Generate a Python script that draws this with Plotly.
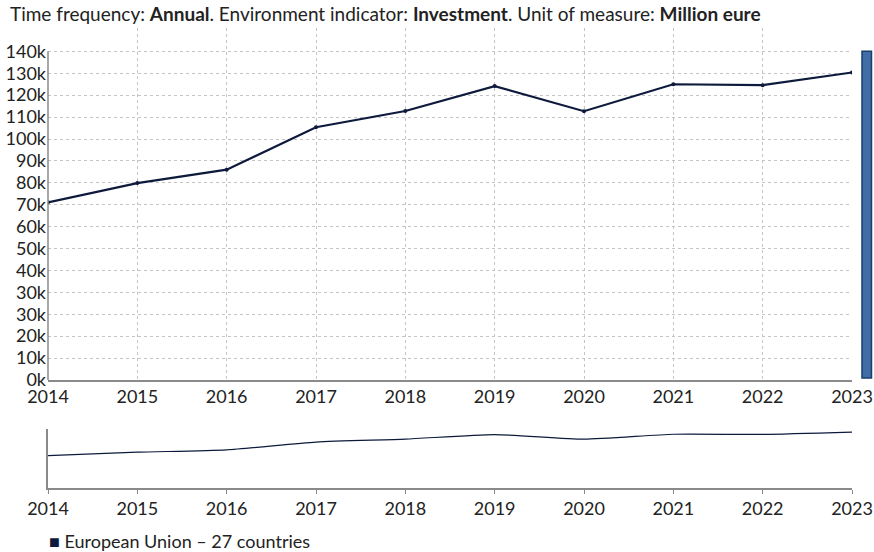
import numpy as np
import plotly.graph_objects as go

# ---- data ----
years = [2014, 2015, 2016, 2017, 2018, 2019, 2020, 2021, 2022, 2023]
investment = [75700, 83900, 89600, 107700, 114600, 125200, 114500, 126000, 125600, 131000]
series_name = "European Union – 27 countries"
y_tick_labels = ["0k", "10k", "20k", "30k", "30k", "40k", "50k", "60k", "70k",
                 "80k", "90k", "100k", "110k", "120k", "130k", "140k"]
x_tick_labels = [str(y) for y in years]
title_text = ("Time frequency: <b>Annual</b>. Environment indicator: <b>Investment</b>. "
              "Unit of measure: <b>Million eure</b>")

# ---- styling ----
FONT = "Lato, 'Open Sans', sans-serif"
LINE_COLOR = "#0d1a3c"
TEXT_COLOR = "#222222"
AXIS_COLOR = "#8a8a8a"
GRID_COLOR = "#c4c4c4"

W, H = 874, 552
ML, MR, MT, MB = 48, 22, 28, 64
plot_h = H - MT - MB  # 460
plot_w = W - ML - MR  # 804


def py(pix):  # pixel y -> paper y
    return (H - MB - pix) / plot_h


def px(pix):  # pixel x -> paper x
    return (pix - ML) / plot_w


top_val = 140000
tickvals = list(np.linspace(0, top_val, len(y_tick_labels)))

fig = go.Figure()

# main line
fig.add_trace(go.Scatter(
    x=years, y=investment, mode="lines+markers", name=series_name,
    line=dict(color=LINE_COLOR, width=2.2),
    marker=dict(color=LINE_COLOR, size=4),
    xaxis="x", yaxis="y", showlegend=False, hoverinfo="x+y"))

# navigator line (mini chart)
fig.add_trace(go.Scatter(
    x=years, y=investment, mode="lines", name=series_name,
    line=dict(color=LINE_COLOR, width=1.2, shape="spline", smoothing=0.6),
    xaxis="x2", yaxis="y2", showlegend=False, hoverinfo="skip"))

main_bottom_px = 380
main_top_val = top_val * (main_bottom_px - 29) / (main_bottom_px - 52.3)

fig.update_layout(
    width=W, height=H,
    margin=dict(l=ML, r=MR, t=MT, b=MB, autoexpand=False),
    paper_bgcolor="white", plot_bgcolor="white",
    font=dict(family=FONT, size=18, color=TEXT_COLOR),
    showlegend=False,
    xaxis=dict(
        domain=[0, 1], range=[years[0], years[-1]],
        tickvals=years, ticktext=x_tick_labels,
        showgrid=True, gridcolor=GRID_COLOR, griddash="dot", gridwidth=1,
        showline=True, linecolor=AXIS_COLOR, linewidth=1.5,
        ticks="", zeroline=False, tickfont=dict(size=18, color=TEXT_COLOR),
        anchor="y", fixedrange=True, automargin=False,
    ),
    yaxis=dict(
        domain=[py(main_bottom_px), 1], range=[0, main_top_val],
        tickvals=tickvals, ticktext=y_tick_labels,
        showgrid=True, gridcolor=GRID_COLOR, griddash="dot", gridwidth=1,
        showline=False, ticks="", zeroline=False,
        tickfont=dict(size=18, color=TEXT_COLOR), ticklabelstandoff=1,
        anchor="x", fixedrange=True, automargin=False,
    ),
    xaxis2=dict(
        domain=[0, 1], range=[years[0], years[-1]],
        tickvals=years, ticktext=x_tick_labels,
        showgrid=False, showline=True, linecolor=AXIS_COLOR, linewidth=1.5,
        ticks="outside", ticklen=4, tickcolor=AXIS_COLOR,
        zeroline=False, tickfont=dict(size=18, color=TEXT_COLOR),
        anchor="y2", fixedrange=True, automargin=False,
    ),
    yaxis2=dict(
        domain=[0, py(429.3)], range=[0, 137600],
        showgrid=False, showline=True, linecolor=AXIS_COLOR, linewidth=1.5,
        showticklabels=False, ticks="", zeroline=False,
        anchor="x2", fixedrange=True, automargin=False,
    ),
)

# y axis line (only up to the top gridline)
fig.add_shape(type="line", xref="paper", yref="y", x0=0, x1=0,
              y0=0, y1=top_val, line=dict(color=AXIS_COLOR, width=1.5))

# vertical scroll bar at right
fig.add_shape(type="rect", xref="paper", yref="y",
              x0=px(862), x1=px(871.5), y0=top_val * (380 - 378) / (380 - 52.3), y1=top_val,
              fillcolor="#3f6ea6", line=dict(color="#1c3d6b", width=1.5))

# title
fig.add_annotation(text=title_text, xref="paper", yref="paper",
                   x=px(8), y=py(14), xanchor="left", yanchor="middle",
                   showarrow=False, font=dict(size=19, color=TEXT_COLOR, family=FONT))

# legend entry
fig.add_annotation(
    text=f"<span style='color:{LINE_COLOR}'>■</span> {series_name}",
    xref="paper", yref="paper", x=px(47), y=py(541),
    xanchor="left", yanchor="middle", showarrow=False,
    font=dict(size=18, color=TEXT_COLOR, family=FONT))

fig.write_html("out.html",
               config={"displayModeBar": False},
               post_script="document.body.style.margin='0px';document.body.style.padding='0px';")
